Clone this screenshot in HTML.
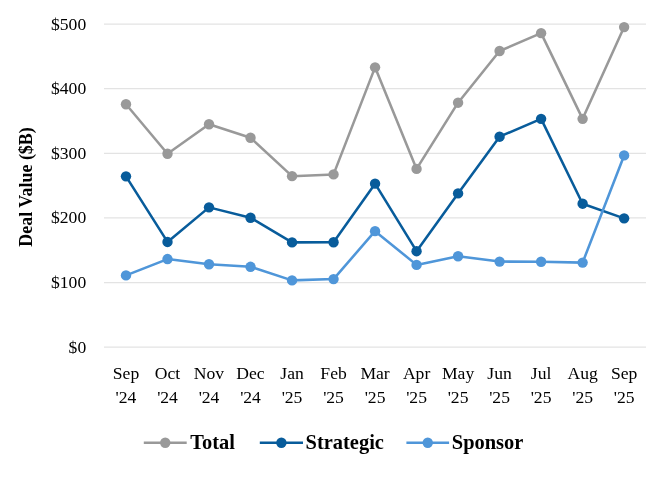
<!DOCTYPE html>
<html lang="en">
<head>
<meta charset="utf-8">
<title>Deal Value ($B)</title>
<style>
html,body{margin:0;padding:0;background:#fff;}
body{width:657px;height:480px;overflow:hidden;}
svg{display:block;}
text{font-family:"Liberation Serif",serif;fill:#000;}
.ax{font-size:17.6px;}
.leg{font-size:20.45px;font-weight:bold;}
.ttl{font-size:18.8px;font-weight:bold;}
</style>
</head>
<body>
<svg width="657" height="480" viewBox="0 0 657 480">
<rect width="657" height="480" fill="#ffffff"/>
<g stroke="#e3e3e3" stroke-width="1.25" fill="none">
<line x1="104.0" y1="347.15" x2="646.0" y2="347.15"/>
<line x1="104.0" y1="282.53" x2="646.0" y2="282.53"/>
<line x1="104.0" y1="217.91" x2="646.0" y2="217.91"/>
<line x1="104.0" y1="153.29" x2="646.0" y2="153.29"/>
<line x1="104.0" y1="88.67" x2="646.0" y2="88.67"/>
<line x1="104.0" y1="24.05" x2="646.0" y2="24.05"/>
</g>
<g class="ax" text-anchor="end">
<text x="86.2" y="352.65">$0</text>
<text x="86.2" y="288.03">$100</text>
<text x="86.2" y="223.41">$200</text>
<text x="86.2" y="158.79">$300</text>
<text x="86.2" y="94.17">$400</text>
<text x="86.2" y="29.55">$500</text>
</g>
<g class="ax" text-anchor="middle">
<text x="126.00" y="379.1">Sep</text>
<text x="126.00" y="403.1">'24</text>
<text x="167.51" y="379.1">Oct</text>
<text x="167.51" y="403.1">'24</text>
<text x="209.02" y="379.1">Nov</text>
<text x="209.02" y="403.1">'24</text>
<text x="250.53" y="379.1">Dec</text>
<text x="250.53" y="403.1">'24</text>
<text x="292.04" y="379.1">Jan</text>
<text x="292.04" y="403.1">'25</text>
<text x="333.55" y="379.1">Feb</text>
<text x="333.55" y="403.1">'25</text>
<text x="375.06" y="379.1">Mar</text>
<text x="375.06" y="403.1">'25</text>
<text x="416.57" y="379.1">Apr</text>
<text x="416.57" y="403.1">'25</text>
<text x="458.08" y="379.1">May</text>
<text x="458.08" y="403.1">'25</text>
<text x="499.59" y="379.1">Jun</text>
<text x="499.59" y="403.1">'25</text>
<text x="541.10" y="379.1">Jul</text>
<text x="541.10" y="403.1">'25</text>
<text x="582.61" y="379.1">Aug</text>
<text x="582.61" y="403.1">'25</text>
<text x="624.12" y="379.1">Sep</text>
<text x="624.12" y="403.1">'25</text>
</g>
<text class="ttl" text-anchor="middle" transform="translate(32.3,187) rotate(-90) scale(0.953,1)">Deal Value ($B)</text>
<polyline points="126.00,104.30 167.51,153.74 209.02,124.27 250.53,137.78 292.04,176.16 333.55,174.41 375.06,67.34 416.57,168.92 458.08,102.69 499.59,50.99 541.10,33.16 582.61,118.84 624.12,27.08" fill="none" stroke="#999999" stroke-width="2.55" stroke-linejoin="round" stroke-linecap="round"/>
<g fill="#999999">
<circle cx="126.00" cy="104.30" r="5.2"/>
<circle cx="167.51" cy="153.74" r="5.2"/>
<circle cx="209.02" cy="124.27" r="5.2"/>
<circle cx="250.53" cy="137.78" r="5.2"/>
<circle cx="292.04" cy="176.16" r="5.2"/>
<circle cx="333.55" cy="174.41" r="5.2"/>
<circle cx="375.06" cy="67.34" r="5.2"/>
<circle cx="416.57" cy="168.92" r="5.2"/>
<circle cx="458.08" cy="102.69" r="5.2"/>
<circle cx="499.59" cy="50.99" r="5.2"/>
<circle cx="541.10" cy="33.16" r="5.2"/>
<circle cx="582.61" cy="118.84" r="5.2"/>
<circle cx="624.12" cy="27.08" r="5.2"/>
</g>
<polyline points="126.00,176.35 167.51,241.94 209.02,207.37 250.53,217.71 292.04,242.39 333.55,242.27 375.06,183.66 416.57,251.18 458.08,193.41 499.59,136.68 541.10,118.84 582.61,203.69 624.12,218.36" fill="none" stroke="#085c9b" stroke-width="2.55" stroke-linejoin="round" stroke-linecap="round"/>
<g fill="#085c9b">
<circle cx="126.00" cy="176.35" r="5.2"/>
<circle cx="167.51" cy="241.94" r="5.2"/>
<circle cx="209.02" cy="207.37" r="5.2"/>
<circle cx="250.53" cy="217.71" r="5.2"/>
<circle cx="292.04" cy="242.39" r="5.2"/>
<circle cx="333.55" cy="242.27" r="5.2"/>
<circle cx="375.06" cy="183.66" r="5.2"/>
<circle cx="416.57" cy="251.18" r="5.2"/>
<circle cx="458.08" cy="193.41" r="5.2"/>
<circle cx="499.59" cy="136.68" r="5.2"/>
<circle cx="541.10" cy="118.84" r="5.2"/>
<circle cx="582.61" cy="203.69" r="5.2"/>
<circle cx="624.12" cy="218.36" r="5.2"/>
</g>
<polyline points="126.00,275.42 167.51,259.07 209.02,264.24 250.53,266.82 292.04,280.39 333.55,279.10 375.06,231.15 416.57,264.88 458.08,256.22 499.59,261.59 541.10,261.78 582.61,262.62 624.12,155.42" fill="none" stroke="#4f96d9" stroke-width="2.55" stroke-linejoin="round" stroke-linecap="round"/>
<g fill="#4f96d9">
<circle cx="126.00" cy="275.42" r="5.2"/>
<circle cx="167.51" cy="259.07" r="5.2"/>
<circle cx="209.02" cy="264.24" r="5.2"/>
<circle cx="250.53" cy="266.82" r="5.2"/>
<circle cx="292.04" cy="280.39" r="5.2"/>
<circle cx="333.55" cy="279.10" r="5.2"/>
<circle cx="375.06" cy="231.15" r="5.2"/>
<circle cx="416.57" cy="264.88" r="5.2"/>
<circle cx="458.08" cy="256.22" r="5.2"/>
<circle cx="499.59" cy="261.59" r="5.2"/>
<circle cx="541.10" cy="261.78" r="5.2"/>
<circle cx="582.61" cy="262.62" r="5.2"/>
<circle cx="624.12" cy="155.42" r="5.2"/>
</g>
<line x1="143.8" y1="442.8" x2="186.7" y2="442.8" stroke="#999999" stroke-width="2.55"/>
<circle cx="165.25" cy="442.8" r="5.2" fill="#999999"/>
<text class="leg" x="190.3" y="448.8">Total</text>
<line x1="259.8" y1="442.8" x2="303" y2="442.8" stroke="#085c9b" stroke-width="2.55"/>
<circle cx="281.40" cy="442.8" r="5.2" fill="#085c9b"/>
<text class="leg" x="305.6" y="448.8">Strategic</text>
<line x1="406.4" y1="442.8" x2="449.1" y2="442.8" stroke="#4f96d9" stroke-width="2.55"/>
<circle cx="427.75" cy="442.8" r="5.2" fill="#4f96d9"/>
<text class="leg" x="451.8" y="448.8">Sponsor</text>
</svg>
</body>
</html>
